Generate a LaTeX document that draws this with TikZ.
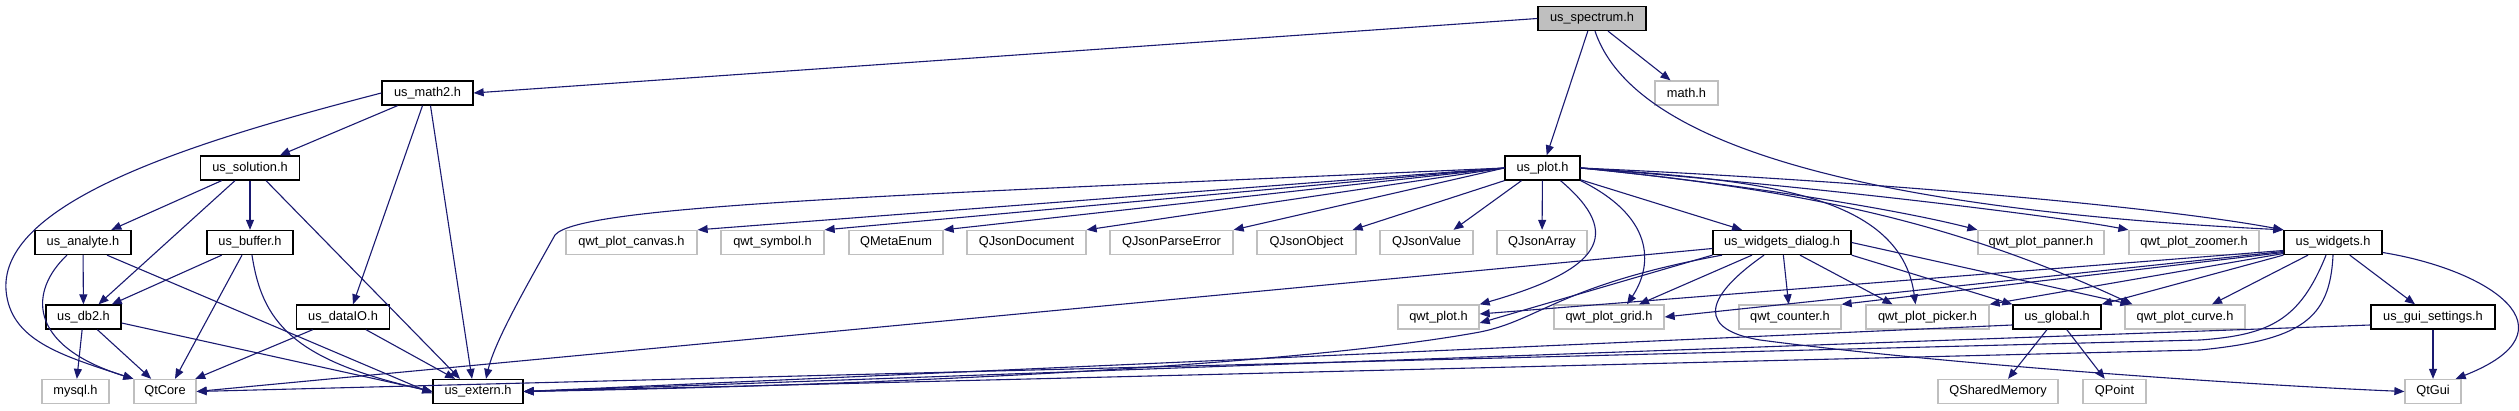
\documentclass[tikz,border=0pt]{standalone}
\usepackage{fontspec}
\setmainfont{Liberation Sans}
\usetikzlibrary{arrows.meta}
\definecolor{edgeblue}{HTML}{191970}
\definecolor{boxgray}{HTML}{BFBFBF}

\begin{document}
\begin{tikzpicture}[x=1pt,y=-1pt,line width=1.1pt,>={Triangle[length=10pt,width=8pt]},
  file/.style={line width=1.3pt,minimum height=24pt,inner xsep=4pt,inner ysep=0pt,
    font=\fontsize{12.8}{15}\selectfont},
  hdr/.style={file,draw=black},
  ext/.style={file,draw=boxgray},
  root/.style={file,draw=black,fill=boxgray},
  dep/.style={->,draw=edgeblue,line width=1.1pt}]
  \useasboundingbox (0,0) rectangle (2519,411);
  % rij 0 en 1
  \node[root,minimum width=108] (spectrum) at (1592,18.5) {us\_spectrum.h};
  \node[hdr,minimum width=91] (math2) at (427.5,93) {us\_math2.h};
  \node[ext,minimum width=63] (mathh) at (1686.5,93) {math.h};
  % rij 2
  \node[hdr,minimum width=99] (solution) at (250,168) {us\_solution.h};
  \node[hdr,minimum width=75] (plot) at (1542.5,168) {us\_plot.h};
  % rij 3
  \node[hdr,minimum width=96] (analyte) at (83,242.5) {us\_analyte.h};
  \node[hdr,minimum width=86] (buffer) at (250,242.5) {us\_buffer.h};
  \node[ext,minimum width=131] (canvas) at (631.5,242.5) {qwt\_plot\_canvas.h};
  \node[ext,minimum width=103] (symbol) at (772.5,242.5) {qwt\_symbol.h};
  \node[ext,minimum width=94] (metaenum) at (896,242.5) {QMetaEnum};
  \node[ext,minimum width=119] (jsondoc) at (1026.5,242.5) {QJsonDocument};
  \node[ext,minimum width=123] (jsonerr) at (1171.5,242.5) {QJsonParseError};
  \node[ext,minimum width=99] (jsonobj) at (1306.5,242.5) {QJsonObject};
  \node[ext,minimum width=93] (jsonval) at (1426.5,242.5) {QJsonValue};
  \node[ext,minimum width=90] (jsonarr) at (1542,242.5) {QJsonArray};
  \node[hdr,minimum width=138] (wdialog) at (1782,242.5) {us\_widgets\_dialog.h};
  \node[ext,minimum width=126] (panner) at (2041,242.5) {qwt\_plot\_panner.h};
  \node[ext,minimum width=130] (zoomer) at (2194,242.5) {qwt\_plot\_zoomer.h};
  \node[hdr,minimum width=98] (widgets) at (2333,242.5) {us\_widgets.h};
  % rij 4
  \node[hdr,minimum width=75] (db2) at (83.5,317) {us\_db2.h};
  \node[hdr,minimum width=93] (dataio) at (343,317) {us\_dataIO.h};
  \node[ext,minimum width=81] (qplot) at (1438.5,317) {qwt\_plot.h};
  \node[ext,minimum width=110] (grid) at (1609,317) {qwt\_plot\_grid.h};
  \node[ext,minimum width=102] (counter) at (1790,317) {qwt\_counter.h};
  \node[ext,minimum width=123] (picker) at (1927.5,317) {qwt\_plot\_picker.h};
  \node[hdr,minimum width=88] (global) at (2057,317) {us\_global.h};
  \node[ext,minimum width=120] (curve) at (2185,317) {qwt\_plot\_curve.h};
  \node[hdr,minimum width=124] (guiset) at (2433,317) {us\_gui\_settings.h};
  % rij 5
  \node[ext,minimum width=67] (mysql) at (75.5,391.5) {mysql.h};
  \node[ext,minimum width=62] (qtcore) at (165,391.5) {QtCore};
  \node[hdr,minimum width=90] (extern) at (478,391.5) {us\_extern.h};
  \node[ext,minimum width=120] (shmem) at (1998,391.5) {QSharedMemory};
  \node[ext,minimum width=63] (qpoint) at (2114.5,391.5) {QPoint};
  \node[ext,minimum width=56] (qtgui) at (2433,391.5) {QtGui};

  % us_spectrum.h
  \draw[dep] (spectrum.west) -- (math2.east);
  \draw[dep] (spectrum) -- (plot);
  \draw[dep] (spectrum) -- (mathh);
  \draw[dep] ([xshift=3pt]spectrum.south) .. controls (1625,120) and (1780,205) .. (widgets.north west);
  % us_math2.h
  \draw[dep] (math2.west) .. controls (200,140) and (0,200) .. (6,290)
    .. controls (10,340) and (60,355) .. (qtcore.north west);
  \draw[dep] (math2) -- (solution);
  \draw[dep] ([xshift=-5pt]math2.south) -- ([xshift=10pt]dataio.north);
  \draw[dep] ([xshift=3pt]math2.south) -- ([xshift=-6pt]extern.north);
  % us_solution.h
  \draw[dep] (solution) -- (analyte);
  \draw[dep] ([xshift=-15pt]solution.south) -- ([xshift=15pt]db2.north);
  \draw[dep] (solution) -- (buffer);
  \draw[dep] ([xshift=16pt]solution.south) -- ([xshift=-18pt]extern.north);
  % us_analyte.h
  \draw[dep] (analyte) -- (db2);
  \draw[dep] ([xshift=-16pt]analyte.south) .. controls (30,290) and (25,345) .. (qtcore.north west);
  \draw[dep] ([xshift=24pt]analyte.south) -- ([yshift=-2pt]extern.west);
  % us_buffer.h
  \draw[dep] (buffer) -- (db2);
  \draw[dep] ([xshift=-8pt]buffer.south) -- ([xshift=10pt]qtcore.north);
  \draw[dep] ([xshift=2pt]buffer.south) .. controls (262,320) and (290,360) .. (extern.west);
  % us_db2.h
  \draw[dep] (db2) -- (mysql);
  \draw[dep] (db2) -- (qtcore);
  \draw[dep] ([yshift=-6pt]db2.east) -- (extern.west);
  % us_dataIO.h
  \draw[dep] (dataio) -- (qtcore);
  \draw[dep] (dataio) -- (extern);
  % us_plot.h
  \draw[dep] (plot.west) -- (canvas.north east);
  \draw[dep] (plot.west) -- (symbol.north east);
  \draw[dep] (plot.west) -- (metaenum.north east);
  \draw[dep] (plot.west) -- (jsondoc.north east);
  \draw[dep] (plot.west) -- (jsonerr.north east);
  \draw[dep] (plot.south west) -- ([xshift=-4pt]jsonobj.north east);
  \draw[dep] ([xshift=-21pt]plot.south) -- ([xshift=27pt]jsonval.north);
  \draw[dep] (plot) -- (jsonarr);
  \draw[dep] ([xshift=18pt]plot.south) .. controls (1625,235) and (1600,270) .. (qplot.north east);
  \draw[dep] (plot.south east) .. controls (1660,220) and (1650,270) .. ([xshift=18pt]grid.north);
  \draw[dep] (plot) -- ([xshift=-40pt]wdialog.north);
  \draw[dep] (plot.east) .. controls (1750,185) and (1900,210) .. (panner.north west);
  \draw[dep] (plot.east) .. controls (1800,185) and (2050,215) .. (zoomer.north west);
  \draw[dep] (plot.east) .. controls (1850,180) and (2150,205) .. (widgets.north west);
  \draw[dep] (plot.east) .. controls (1750,180) and (1900,190) .. ([xshift=-12pt]picker.north);
  \draw[dep] (plot.east) .. controls (1800,190) and (1950,220) .. ([xshift=8pt]curve.north west);
  \draw[dep] (plot.west) .. controls (900,195) and (580,205) .. (555,235)
    .. controls (530,280) and (495,340) .. ([xshift=8pt]extern.north);
  % us_widgets_dialog.h
  \draw[dep] (wdialog.south west) -- ([yshift=-6pt]qplot.east);
  \draw[dep] ([xshift=-30pt]wdialog.south) -- ([xshift=30pt]grid.north);
  \draw[dep] (wdialog) -- (counter);
  \draw[dep] ([xshift=18pt]wdialog.south) -- ([xshift=-35pt]picker.north);
  \draw[dep] (wdialog.south east) -- (global.north west);
  \draw[dep] (wdialog.east) -- ([xshift=6pt]curve.north west);
  \draw[dep] ([xshift=-18pt]wdialog.south) .. controls (1700,300) and (1700,330) .. (1760,340)
    .. controls (1950,365) and (2250,385) .. (qtgui.west);
  \draw[dep] ([yshift=-6pt]wdialog.west) -- (qtcore.east);
  \draw[dep] ([xshift=-60pt]wdialog.south) .. controls (1560,285) and (1540,320) .. (1480,332)
    .. controls (1300,365) and (900,385) .. (extern.east);
  % us_widgets.h
  \draw[dep] ([yshift=-8pt]widgets.west) -- ([yshift=3pt]qplot.east);
  \draw[dep] ([yshift=-9pt]widgets.west) -- (grid.east);
  \draw[dep] ([yshift=-10pt]widgets.west) -- (counter.north east);
  \draw[dep] ([yshift=-11pt]widgets.west) -- (picker.north east);
  \draw[dep] (widgets.south west) -- (global.north east);
  \draw[dep] ([xshift=-25pt]widgets.south) -- ([xshift=27pt]curve.north);
  \draw[dep] (widgets) -- ([xshift=-18pt]guiset.north);
  \draw[dep] ([yshift=-10pt]widgets.east) .. controls (2490,270) and (2580,330) .. ([xshift=-6pt]qtgui.north east);
  \draw[dep] ([xshift=-7pt]widgets.south) .. controls (2300,320) and (2270,335) .. (2200,340) -- (qtcore.east);
  \draw[dep] (widgets.south) .. controls (2330,320) and (2300,340) .. (2200,350) -- (extern.east);
  % us_global.h, us_gui_settings.h
  \draw[dep] (global) -- (shmem);
  \draw[dep] (global) -- (qpoint);
  \draw[dep] ([yshift=-8pt]global.west) -- (extern.east);
  \draw[dep] (guiset) -- (qtgui);
  \draw[dep] ([yshift=-8pt]guiset.west) -- (extern.east);
\end{tikzpicture}
\end{document}
